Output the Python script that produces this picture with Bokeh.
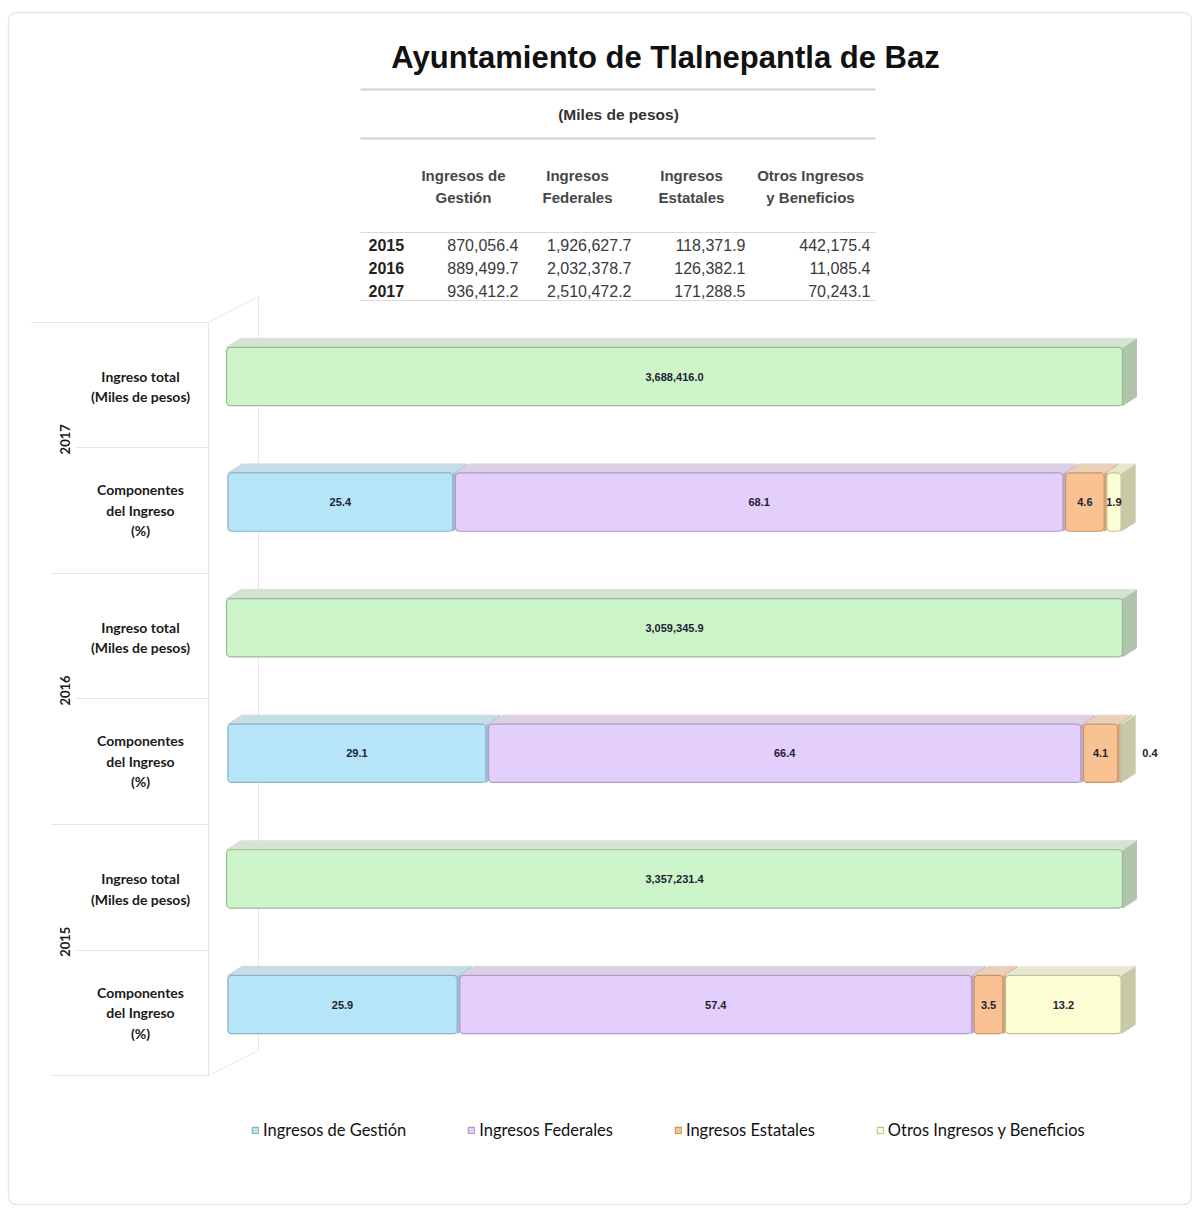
import math
from bokeh.plotting import figure
from bokeh.models import Range1d, ColumnDataSource, Legend, LegendItem
from bokeh.core.properties import value
from bokeh.embed import file_html
from bokeh.resources import INLINE

# ---------------- data ----------------
title = "Ayuntamiento de Tlalnepantla de Baz"
units = "(Miles de pesos)"
years = ["2015", "2016", "2017"]
series = ["Ingresos de Gestión", "Ingresos Federales", "Ingresos Estatales", "Otros Ingresos y Beneficios"]
table_headers = ["Ingresos de\nGestión", "Ingresos\nFederales", "Ingresos\nEstatales", "Otros Ingresos\ny Beneficios"]
gestion = [870056.4, 889499.7, 936412.2]
federales = [1926627.7, 2032378.7, 2510472.2]
estatales = [118371.9, 126382.1, 171288.5]
otros = [442175.4, 11085.4, 70243.1]
pct_gestion = [25.9, 29.1, 25.4]
pct_federales = [57.4, 66.4, 68.1]
pct_estatales = [3.5, 4.1, 4.6]
pct_otros = [13.2, 0.4, 1.9]
row_labels = ["Ingreso total\n(Miles de pesos)", "Componentes\ndel Ingreso\n(%)"]

# ---------------- style ----------------
front = ["#b6e4f8", "#e4cefb", "#f9c292", "#fdfdd3"]
top_c = ["#c6dce7", "#dcd0e6", "#ead0b8", "#e8e8d2"]
side_c = ["#9fc0cf", "#bcaccb", "#d4a680", "#c9c9a8"]
edge = ["#8db1c2", "#ae9cc4", "#c99566", "#c2c29a"]
g_front, g_top, g_side, g_edge = "#cdf5c9", "#d5e4d2", "#b0c5ac", "#9cb997"
SANS = "Liberation Sans"
CAL = "Lato"

def px(xp):
    return (xp - 226.0) / 8.96

def py(yp):
    return 5.0 - (yp - 376.0) / 125.6

H = 0.232            # half bar height (data units)
DX = 14 / 8.96       # 3D depth in x
DY = 9 / 125.6       # 3D depth in y
GAP = 0.15

W, HT = 1192, 1205
p = figure(width=W, height=HT, x_range=Range1d(px(0), px(W)),
           y_range=Range1d(py(HT), py(0)), x_axis_type=None, y_axis_type=None,
           output_backend="svg", toolbar_location=None, min_border=0)
p.grid.visible = False
p.outline_line_color = None
p.background_fill_color = "white"

# card border
p.quad(left=[px(8)], right=[px(1191)], top=[py(12)], bottom=[py(1204)], fill_color=None,
       line_color="#e6e6e6", line_width=1.5, border_radius=8)

# ---------------- 3D wall lines ----------------
wall = "#e6e6e6"
p.segment(x0=[px(208), px(208), px(258), px(208)], y0=[py(322), py(322), py(296), py(1075)],
          x1=[px(258), px(208), px(258), px(258)], y1=[py(296), py(1075), py(1050), py(1050)],
          line_color=wall, line_width=1)
sep_y = [322, 447, 573, 698, 824, 950, 1075]
sep_x0 = [30, 75, 50, 75, 50, 75, 50]
p.segment(x0=[px(v) for v in sep_x0], y0=[py(v) for v in sep_y],
          x1=[px(208)] * len(sep_y), y1=[py(v) for v in sep_y], line_color=wall, line_width=1)

# ---------------- table ----------------
p.segment(x0=[px(360), px(360)], y0=[py(89), py(138)], x1=[px(875), px(875)], y1=[py(89), py(138)],
          line_color="#cfcfcf", line_width=2)
p.segment(x0=[px(360), px(360)], y0=[py(232), py(300)], x1=[px(875), px(875)], y1=[py(232), py(300)],
          line_color="#d9d9d9", line_width=1)
p.text(x=[px(665)], y=[py(57)], text=[title], text_font=value(SANS), text_font_size="31px",
       text_font_style="bold", text_color="#111111", text_align="center", text_baseline="middle")
p.text(x=[px(618)], y=[py(114)], text=[units], text_font=value(SANS), text_font_size="15.5px",
       text_font_style="bold", text_color="#333333", text_align="center", text_baseline="middle")
head_cx = [463, 577, 691, 810]
hx, hy, ht = [], [], []
for cx, hdr in zip(head_cx, table_headers):
    for j, line in enumerate(hdr.split("\n")):
        hx.append(px(cx)); hy.append(py(175 + 22 * j)); ht.append(line)
p.text(x=hx, y=hy, text=ht, text_font=value(SANS), text_font_size="15px", text_font_style="bold",
       text_color="#474747", text_align="center", text_baseline="middle")
row_y = [244, 267, 290]
val_right = [518, 631, 745, 870]
p.text(x=[px(368)] * 3, y=[py(v) for v in row_y], text=years, text_font=value(SANS),
       text_font_size="16px", text_font_style="bold", text_color="#222222",
       text_align="left", text_baseline="middle")
vx, vy, vt = [], [], []
for k, col in enumerate([gestion, federales, estatales, otros]):
    for i, v in enumerate(col):
        vx.append(px(val_right[k])); vy.append(py(row_y[i])); vt.append(f"{v:,.1f}")
p.text(x=vx, y=vy, text=vt, text_font=value(SANS), text_font_size="16px",
       text_color="#3a3a3a", text_align="right", text_baseline="middle")

# ---------------- bars ----------------
pcts = [pct_gestion, pct_federales, pct_estatales, pct_otros]
cols = [gestion, federales, estatales, otros]
totals = [sum(c[i] for c in cols) for i in range(3)]

# total bars (100 % of the year's income)
tot_y = [2 * i + 1 for i in range(3)]
tot_right = [sum(pc[i] for pc in pcts) for i in range(3)]
sx, sy, tx, ty = [], [], [], []
for yv, r in zip(tot_y, tot_right):
    yt, yb = yv + H, yv - H
    sx.append([r, r + DX, r + DX, r]); sy.append([yb, yb + DY, yt + DY, yt])
    tx.append([0, r, r + DX, DX]); ty.append([yt, yt, yt + DY, yt + DY])
p.patches(xs=sx, ys=sy, fill_color=g_side, line_color=g_side)
p.patches(xs=tx, ys=ty, fill_color=g_top, line_color=g_top)
p.quad(left=[0] * 3, right=tot_right, top=[y + H for y in tot_y], bottom=[y - H for y in tot_y],
       fill_color=g_front, line_color=g_edge, line_width=1.2, border_radius=4)
p.text(x=[r / 2 for r in tot_right], y=tot_y, text=[f"{t:,.1f}" for t in totals],
       text_font=value(SANS), text_font_size="11px", text_font_style="bold",
       text_color="#1d2233", text_align="center", text_baseline="middle")

# component bars
comp_y = [2 * i for i in range(3)]
lefts = [[0.0] * 3 for _ in range(4)]
for k in range(1, 4):
    lefts[k] = [lefts[k - 1][i] + pcts[k - 1][i] for i in range(3)]
front_renderers = []
for k in range(4):
    sx, sy, tx, ty = [], [], [], []
    for i in range(3):
        x0 = lefts[k][i] + GAP
        x1 = lefts[k][i] + pcts[k][i] - GAP
        yt, yb = comp_y[i] + H, comp_y[i] - H
        sx.append([x1, x1 + DX, x1 + DX, x1]); sy.append([yb, yb + DY, yt + DY, yt])
        tx.append([x0, x1, x1 + DX, x0 + DX]); ty.append([yt, yt, yt + DY, yt + DY])
    p.patches(xs=sx, ys=sy, fill_color=side_c[k], line_color=side_c[k])
    p.patches(xs=tx, ys=ty, fill_color=top_c[k], line_color=top_c[k])
for k in range(4):
    src = ColumnDataSource(dict(
        left=[lefts[k][i] + GAP for i in range(3)],
        right=[lefts[k][i] + pcts[k][i] - GAP for i in range(3)],
        top=[y + H for y in comp_y], bottom=[y - H for y in comp_y]))
    r = p.quad(left="left", right="right", top="top", bottom="bottom", source=src,
               fill_color=front[k], line_color=edge[k], line_width=1.2, border_radius=4)
    front_renderers.append(r)

lx, ly, lt = [], [], []
for k in range(4):
    for i in range(3):
        v = pcts[k][i]
        if v < 1:
            lx.append(lefts[k][i] + v + DX + 1.5)
        else:
            lx.append(lefts[k][i] + v / 2)
        ly.append(comp_y[i]); lt.append(f"{v:.1f}")
p.text(x=lx, y=ly, text=lt, text_font=value(SANS), text_font_size="11px", text_font_style="bold",
       text_color="#1d2233", text_align="center", text_baseline="middle")

# ---------------- left labels ----------------
cx_, cy_, ct_ = [], [], []
for i in range(3):
    for j, lab in enumerate(row_labels):
        lines = lab.split("\n")
        base = (2 * i + 1 if j == 0 else 2 * i)
        center_page = 376 + (5 - base) * 125.6 + (10 if j == 0 else 8)
        n = len(lines)
        for m, line in enumerate(lines):
            cx_.append(px(140)); cy_.append(py(center_page + (m - (n - 1) / 2) * 20.5)); ct_.append(line)
p.text(x=cx_, y=cy_, text=ct_, text_font=value(CAL), text_font_size="14px", text_font_style="bold",
       text_color="#1a1a1a", text_align="center", text_baseline="middle")
p.text(x=[px(64)] * 3, y=[2 * i + 0.5 for i in range(3)], text=years, angle=math.pi / 2,
       text_font=value(CAL), text_font_size="13px", text_font_style="bold",
       text_color="#1a1a1a", text_align="center", text_baseline="middle")

# ---------------- legend ----------------
legend = Legend(items=[LegendItem(label=s, renderers=[r]) for s, r in zip(series, front_renderers)],
                orientation="horizontal", location=(251, 65), spacing=61, padding=0, margin=0,
                label_standoff=4, glyph_width=8, glyph_height=8, border_line_color=None,
                background_fill_alpha=0, label_text_font=CAL, label_text_font_size="16.5px",
                label_text_color="#111111")
p.add_layout(legend, "center")

open("out.html", "w").write(file_html(p, INLINE))
